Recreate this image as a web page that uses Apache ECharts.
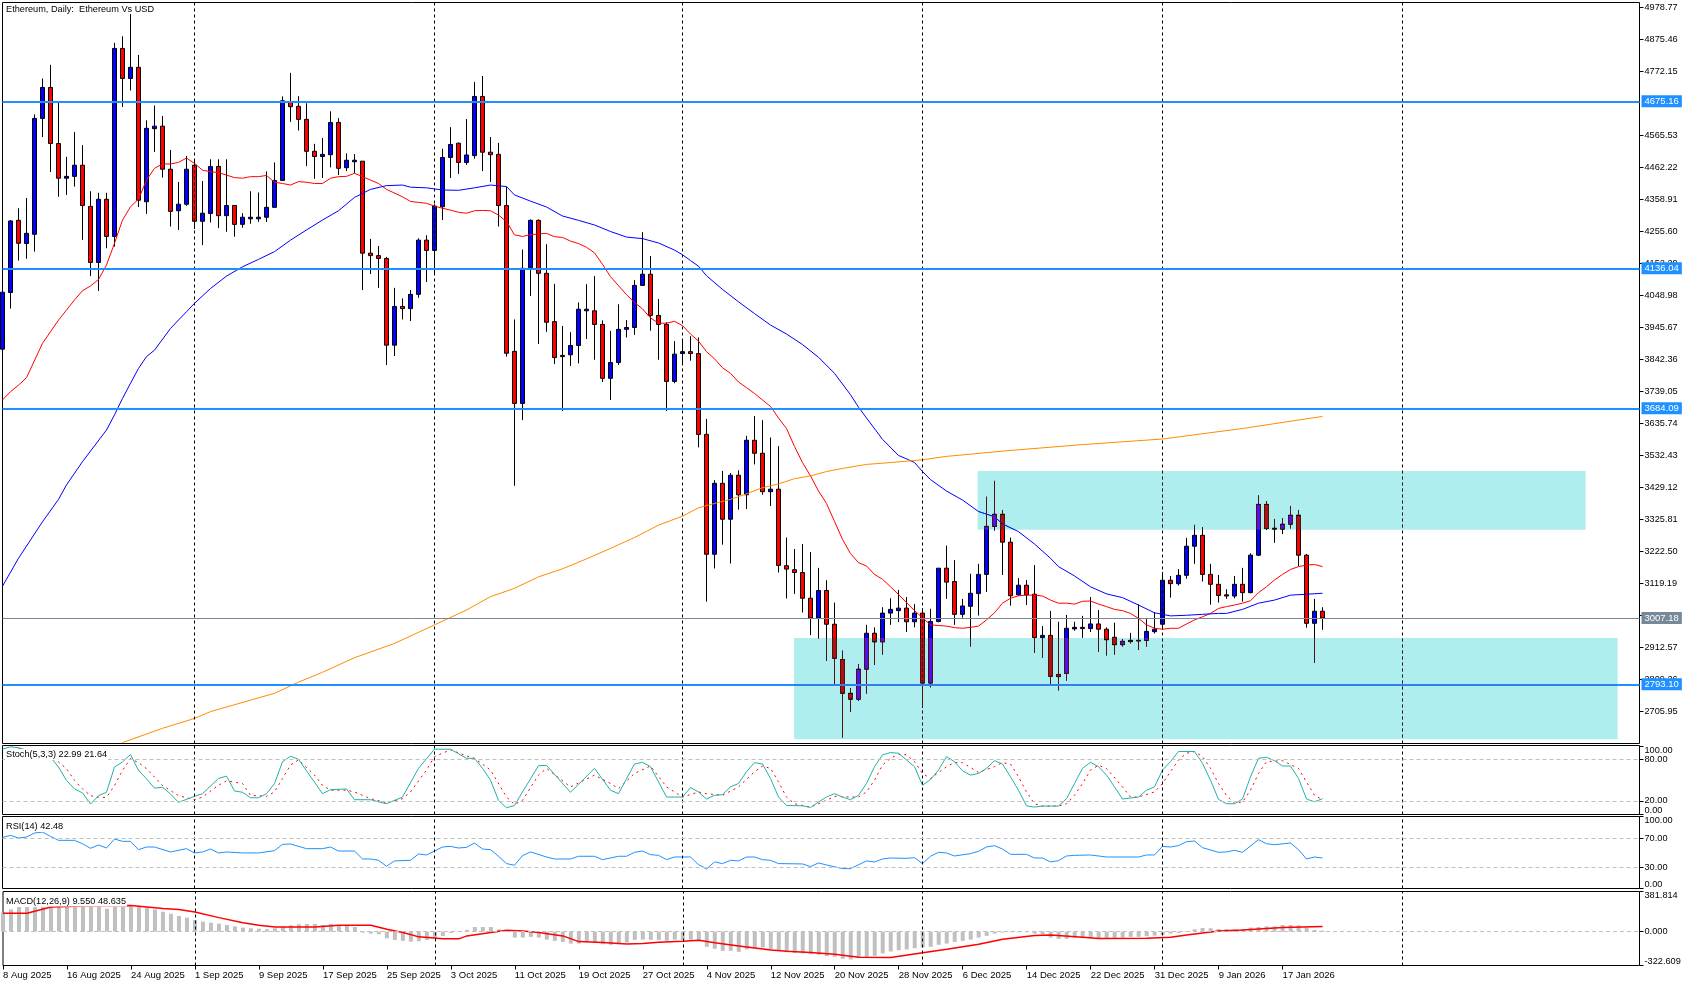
<!DOCTYPE html>
<html><head><meta charset="utf-8">
<style>html,body{margin:0;padding:0;background:#fff}#c{width:1692px;height:986px}</style>
<script src="https://cdn.jsdelivr.net/npm/echarts@6/dist/echarts.min.js"></script>
</head><body><div id="c"></div>
<script>
const opens=[3875,4058,4291,4216,4246,4620,4720,4539,4427,4433,4469,4336,4155,4359,4239,4846,4749,4785,4351,4587,4595,4456,4322,4343,4469,4288,4313,4465,4306,4339,4278,4296,4296,4301,4333,4420,4672,4659,4617,4514,4497,4503,4607,4461,4480,4482,4185,4177,4168,3888,4013,4006,4052,4227,4194,4335,4494,4540,4478,4500,4691,4511,4504,4339,3868,3700,4138,4291,4120,3964,3855,3857,3887,3999,3999,3955,3781,3832,3939,3945,4081,4117,3984,3955,3771,3861,3867,3861,3600,3213,3442,3326,3468,3405,3581,3539,3415,3423,3176,3163,3154,3071,3007,3096,2987,2873,2764,2745,2842,2958,2930,3023,3031,3039,2995,3023,2797,2996,3168,3125,3019,3045,3086,3148,3303,3342,3252,3082,3113,3084,2944,2951,2825,2828,2972,2977,2973,2988,2971,2945,2921,2935,2935,2935,2963,2987,3129,3118,3145,3239,3274,3148,3116,3082,3078,3116,3089,3210,3374,3297,3294,3310,3339,3210,2990,3029];
const closes=[4059,4289,4217,4249,4620,4720,4539,4427,4433,4469,4339,4155,4359,4239,4846,4749,4785,4356,4588,4595,4456,4320,4343,4456,4288,4314,4465,4306,4339,4278,4301,4301,4301,4333,4420,4677,4658,4617,4514,4497,4504,4607,4459,4485,4485,4185,4177,4168,3888,4013,4006,4052,4227,4194,4337,4494,4536,4478,4502,4691,4511,4503,4339,3862,3700,4136,4291,4120,3962,3848,3851,3887,4004,4004,3955,3781,3832,3939,3945,4081,4117,3984,3955,3771,3859,3867,3861,3600,3213,3442,3326,3468,3405,3581,3539,3415,3423,3177,3165,3154,3071,3007,3096,2987,2877,2764,2745,2842,2958,2930,3023,3035,3039,2995,3023,2797,2996,3168,3123,3019,3046,3087,3148,3303,3342,3252,3079,3113,3082,2944,2951,2819,2818,2974,2977,2973,2988,2971,2937,2921,2932,2931,2933,2964,2971,3129,3118,3145,3239,3274,3148,3116,3080,3078,3116,3089,3210,3374,3296,3294,3310,3339,3210,2990,3029,3007.18];
const lows=[3875,4006,4161,4167,4190,4560,4447,4367,4373,4400,4228,4111,4063,4201,4206,4657,4710,4334,4312,4512,4429,4271,4260,4338,4263,4211,4284,4266,4254,4238,4267,4280,4286,4286,4333,4420,4609,4581,4466,4425,4428,4462,4437,4450,4443,4066,4118,4073,3824,3853,3971,3966,4041,4092,4115,4292,4428,4441,4470,4490,4450,4415,4271,3851,3434,3646,4047,3892,3931,3827,3676,3821,3829,3908,3841,3769,3711,3824,3913,3921,4080,3935,3841,3676,3765,3826,3838,3558,3060,3167,3244,3183,3357,3359,3503,3405,3369,3154,3070,3085,3025,2952,2941,2869,2789,2621,2704,2740,2763,2856,2889,2985,2994,2962,2977,2717,2783,2993,3069,2985,3008,2915,3015,3091,3289,3146,3047,3078,3049,2895,2879,2788,2773,2805,2966,2943,2962,2898,2886,2889,2915,2925,2904,2915,2957,2971,3073,3112,3134,3182,3125,3050,3057,3069,3071,3060,3087,3207,3291,3250,3278,3296,3175,2976,2863,2969];
const highs=[4059,4292,4330,4363,4633,4749,4793,4670,4496,4576,4534,4385,4380,4380,4864,4885,4957,4825,4614,4662,4628,4518,4415,4499,4488,4418,4488,4488,4488,4339,4314,4385,4381,4449,4478,4691,4767,4692,4669,4538,4557,4643,4621,4507,4505,4482,4231,4208,4173,4073,4039,4066,4233,4243,4343,4522,4592,4542,4618,4738,4757,4560,4541,4400,3971,4197,4294,4294,4214,4086,3950,3930,4026,4085,4111,3968,3934,4020,3969,4098,4253,4176,4037,3962,3901,3907,3917,3913,3650,3452,3482,3475,3484,3595,3659,3646,3590,3562,3267,3230,3246,3220,3169,3129,3057,2902,2781,2858,2985,2977,3042,3071,3098,3075,3052,3039,3037,3168,3241,3194,3069,3150,3182,3399,3450,3356,3267,3136,3130,3178,2981,3030,2995,3017,2995,3014,3075,3033,2977,2992,2939,2959,3051,3006,3026,3156,3143,3165,3266,3308,3300,3182,3146,3100,3143,3169,3216,3403,3384,3327,3330,3369,3356,3214,3069,3042];

const ma20=[[0,3711],[1,3738],[2,3759],[3,3783],[5,3894],[7,3969],[9,4034],[10,4064],[11,4079],[12,4100],[13,4147],[14,4217],[15,4292],[16,4335],[17,4359],[18,4421],[19,4459],[20,4473],[21,4473],[22,4478],[23,4492],[24,4475],[25,4453],[26,4448],[27,4445],[28,4437],[29,4429],[30,4427],[31,4432],[32,4432],[33,4436],[34,4414],[35,4410],[36,4405],[37,4416],[38,4414],[39,4410],[40,4410],[41,4427],[42,4432],[43,4433],[44,4443],[45,4432],[46,4421],[47,4410],[48,4391],[50,4367],[51,4352],[52,4349],[53,4346],[54,4337],[55,4330],[56,4324],[57,4317],[58,4314],[59,4322],[60,4323],[61,4322],[62,4308],[63,4287],[64,4244],[65,4239],[66,4245],[67,4247],[68,4249],[69,4238],[70,4236],[71,4224],[72,4216],[73,4204],[74,4186],[75,4149],[76,4109],[77,4080],[78,4051],[79,4026],[80,4005],[81,3976],[82,3959],[83,3959],[84,3965],[85,3951],[86,3924],[87,3901],[88,3867],[89,3844],[90,3815],[91,3797],[92,3769],[93,3751],[94,3732],[95,3711],[96,3690],[97,3653],[98,3619],[99,3561],[100,3509],[101,3466],[102,3417],[103,3377],[104,3319],[105,3261],[106,3215],[107,3186],[108,3175],[109,3148],[110,3132],[111,3108],[112,3083],[113,3057],[114,3031],[115,3008],[116,2985],[117,2983],[118,2981],[119,2976],[120,2974],[121,2977],[122,2981],[123,3001],[124,3024],[125,3055],[126,3071],[127,3079],[128,3081],[129,3081],[130,3078],[131,3065],[132,3055],[133,3055],[134,3052],[135,3061],[136,3062],[137,3052],[138,3044],[139,3035],[140,3031],[141,3022],[142,3006],[143,2985],[144,2974],[145,2971],[146,2974],[147,2974],[148,2988],[149,3001],[150,3011],[151,3022],[152,3038],[153,3044],[154,3049],[155,3055],[156,3063],[157,3089],[158,3108],[159,3130],[160,3148],[161,3164],[162,3173],[163,3178],[164,3180],[165,3173]];
const ma50=[[0,3110],[2,3200],[5,3318],[7,3390],[8,3437],[10,3512],[13,3614],[14,3663],[15,3716],[16,3765],[17,3813],[18,3851],[19,3872],[21,3942],[23,3996],[24,4023],[26,4071],[28,4111],[30,4141],[32,4165],[34,4190],[36,4227],[38,4260],[40,4292],[42,4322],[44,4365],[46,4391],[48,4403],[50,4405],[51,4398],[53,4396],[55,4389],[57,4388],[59,4396],[61,4405],[63,4400],[64,4373],[66,4353],[68,4334],[70,4305],[72,4291],[74,4276],[76,4255],[78,4237],[80,4232],[82,4218],[84,4195],[85,4180],[86,4161],[87,4143],[88,4112],[90,4068],[92,4028],[94,3990],[96,3953],[98,3924],[100,3890],[102,3849],[104,3797],[106,3728],[107,3688],[108,3653],[110,3584],[112,3532],[113,3521],[114,3509],[115,3480],[116,3454],[118,3417],[120,3388],[122,3351],[124,3334],[125,3311],[127,3286],[129,3246],[131,3200],[132,3173],[134,3143],[136,3108],[138,3085],[140,3073],[142,3049],[144,3024],[146,3014],[148,3016],[150,3019],[152,3022],[153,3022],[155,3035],[157,3055],[159,3065],[161,3081],[163,3084],[165,3087]];
const ma200=[[15,2605],[20,2651],[24,2683],[26,2705],[31,2742],[34,2764],[37,2800],[40,2832],[44,2879],[49,2925],[54,2985],[58,3033],[61,3076],[64,3103],[67,3140],[70,3166],[73,3198],[76,3232],[79,3267],[82,3307],[85,3336],[87,3363],[89,3377],[91,3390],[93,3408],[95,3428],[97,3440],[99,3457],[101,3466],[103,3480],[105,3490],[108,3503],[111,3509],[115,3518],[118,3529],[121,3536],[125,3546],[135,3567],[145,3585],[155,3619],[165,3658]];

const stochMain=[[0,95.4],[1,98.8],[2,97.4],[3,94],[4,91.5],[5,87.5],[6,83.6],[7,69.3],[8,49.7],[9,37.4],[10,31.5],[11,15.3],[12,27.5],[13,32.5],[14,69.3],[15,76.7],[16,87.5],[17,64.4],[18,52.1],[19,38.4],[20,39.8],[21,30],[22,17.7],[24,26.5],[25,30.4],[27,52.6],[28,56],[29,34.4],[30,32.4],[31,24.5],[32,24.5],[33,30.4],[34,45.2],[35,77.1],[36,85],[37,80.6],[40,30.4],[41,36.3],[43,37.3],[44,21.6],[46,21.6],[48,15.7],[50,25.5],[52,67.3],[54,95.3],[56,95.3],[58,82],[59,82],[60,67.3],[61,50.1],[62,20.6],[63,9.8],[64,13.2],[65,32.9],[67,71.2],[68,71.7],[71,32.4],[74,67.3],[76,35.4],[77,30.4],[79,73.7],[80,76.2],[81,69.8],[83,25.5],[85,25.5],[86,39.3],[87,32.9],[88,22.6],[89,28],[90,29],[91,40.3],[92,45.2],[93,62.4],[94,75.7],[95,73.7],[96,52.6],[97,25.5],[98,13.2],[100,12.7],[101,10.3],[102,18.2],[103,25.5],[104,30.4],[105,25.5],[106,21.6],[107,28],[108,45.2],[109,69.8],[110,87],[111,90.4],[112,89.4],[113,79.6],[114,69.8],[115,42.7],[116,51.1],[117,64.9],[118,84.5],[119,77.1],[120,63.9],[121,57.5],[122,59.9],[123,67.3],[124,78.6],[125,73.7],[126,55],[127,35.4],[128,12.7],[129,10.8],[130,12.3],[132,12.3],[133,23.1],[134,45.2],[135,67.3],[136,76.2],[137,69.8],[138,57.5],[139,40.3],[140,22.6],[142,25.5],[143,35.4],[144,40.3],[145,64.9],[146,77.1],[147,91.9],[149,91.9],[150,74.7],[151,50.1],[152,22.1],[153,15.7],[154,15.7],[155,22.6],[156,55],[157,82],[158,83.5],[159,78.6],[160,70.8],[161,70.8],[162,52.6],[163,22.6],[164,18.6],[165,22.99]];
const stochSignal=[[2,97],[6,83],[7,76.7],[8,66.9],[9,49.7],[10,37.4],[11,27.5],[12,25.1],[13,25],[14,42.3],[15,64.4],[16,81.6],[17,75.7],[18,66.9],[19,54.6],[20,42.3],[21,34.9],[22,27.5],[24,21.6],[25,25.5],[27,42.7],[28,49.1],[30,45.2],[31,28],[33,26.5],[34,32.9],[35,52.6],[36,72.2],[37,79.6],[39,57.5],[40,42.7],[41,35.4],[43,35.4],[44,32.9],[46,23.1],[48,17.2],[50,23.1],[51,32.9],[53,64.9],[54,84.5],[56,94.4],[58,85.5],[59,82],[61,64.9],[63,25.5],[64,14.7],[65,20.6],[67,57.5],[68,67.3],[71,40.3],[74,57.5],[76,45.2],[77,37.8],[79,59.9],[81,70.8],[83,40.3],[85,25.5],[87,32.9],[88,30.4],[90,28],[92,40.3],[94,62.4],[95,70.8],[96,67.3],[97,47.6],[98,25.5],[99,15.7],[101,10.8],[103,20.6],[104,26.5],[106,25.5],[107,25.5],[108,32.9],[109,50.1],[110,72.2],[111,82],[112,88],[113,87],[114,77.1],[115,59.9],[116,52.6],[118,69.8],[119,75.7],[120,75.7],[122,61.4],[124,69.8],[125,75.7],[126,73.7],[127,55],[128,32.9],[129,15.7],[130,12.3],[132,12.3],[133,15.7],[134,28],[135,45.2],[136,64.9],[137,71.7],[138,67.3],[140,40.3],[141,25.5],[142,25.5],[144,32.9],[145,45.2],[147,79.6],[148,89.4],[149,91.9],[150,84.5],[151,67.3],[152,45.2],[153,28],[154,16.7],[155,18.2],[156,35.4],[157,59.9],[158,77.1],[160,78.6],[162,67.3],[163,47.6],[164,28],[165,21.64]];
const rsiLine=[[0,71.2],[1,74],[2,70.3],[3,71.7],[4,77.3],[5,78.6],[6,72.6],[7,67.1],[9,67.1],[10,62.4],[11,56],[12,60.6],[13,56.4],[14,68.9],[15,65.7],[16,65.7],[17,54.1],[18,57.8],[19,57.8],[21,50.9],[23,55.5],[24,49.5],[25,50.9],[26,55],[27,49.5],[28,50.9],[30,49.5],[32,49.5],[34,52.7],[35,61.5],[36,62],[38,55.5],[40,55.5],[41,57.8],[42,52.2],[44,52.2],[45,41.1],[46,41.1],[47,39.3],[48,31],[49,38.4],[51,39.3],[52,48.1],[53,46.7],[55,57.8],[56,58.7],[57,56.4],[58,57.3],[59,63.4],[60,55],[61,54.1],[62,44.9],[63,34.7],[64,32.4],[65,45.8],[66,50.9],[68,43.9],[69,41.1],[71,41.1],[72,44.9],[74,44.9],[75,40.2],[77,44.9],[78,44.9],[79,50.4],[80,52.2],[81,47.2],[82,46.2],[83,40.2],[84,43.9],[86,43.9],[87,33.3],[88,27.3],[89,37],[90,34.7],[91,39.3],[92,38.4],[93,43.9],[94,43.9],[95,40.2],[96,39.3],[97,34.7],[100,34.2],[101,30.5],[102,35.6],[103,32.8],[105,27.7],[106,27.7],[108,38.4],[109,37],[110,41.1],[111,42.5],[113,42],[114,43],[115,34.7],[116,44.9],[117,50.4],[118,49.5],[119,45.3],[121,48.6],[122,51.8],[123,57.8],[124,59.7],[125,55],[126,47.6],[128,47.6],[129,42.5],[130,42.5],[131,37],[132,38.8],[133,45.3],[134,46.2],[136,46.7],[138,43.9],[142,43.9],[143,46.7],[144,46.7],[145,58.7],[146,57.8],[147,59.7],[148,65.2],[149,66.1],[150,56.9],[152,50.4],[153,50.9],[154,53.2],[155,50.4],[157,68],[158,62.4],[159,61],[161,63.4],[162,54.1],[163,41.1],[164,43.9],[165,42.48]];
const macdHist=[180,211,234,234,234,237,237,237,237,237,237,237,237,218,237,237,237,237,227,211,189,170,148,133,110,95,85,76,63,50,38,32,28,22,32,44,60,69,73,73,63,73,60,54,44,-9,-19,-25,-63,-79,-88,-95,-92,-79,-60,-41,-13,6,16,44,44,44,22,2,-57,-57,-50,-57,-76,-88,-98,-114,-114,-98,-104,-120,-126,-120,-104,-79,-76,-79,-79,-88,-76,-79,-76,-79,-145,-164,-183,-183,-193,-170,-158,-151,-170,-183,-196,-202,-208,-215,-221,-234,-240,-259,-265,-252,-246,-230,-208,-189,-177,-170,-158,-151,-145,-126,-114,-98,-88,-76,-57,-41,-19,-9,-6,-6,-6,-19,-25,-57,-69,-69,-57,-57,-63,-63,-63,-63,-57,-50,-50,-44,-38,-32,-19,-13,6,22,35,32,25,25,19,25,38,44,50,50,63,63,60,38,16,9.55];
const macdSignal=[[0,174],[3,174],[6,234],[10,243],[16,249],[20,221],[22,211],[24,186],[27,133],[30,85],[32,60],[34,44],[39,44],[42,60],[46,60],[48,22],[50,-9],[52,-50],[55,-69],[57,-69],[58,-41],[61,-9],[63,13],[65,6],[67,-9],[70,-41],[72,-95],[75,-104],[78,-117],[80,-114],[82,-101],[85,-92],[87,-82],[89,-107],[92,-136],[96,-174],[98,-186],[101,-199],[104,-215],[107,-243],[111,-246],[115,-202],[118,-167],[122,-120],[125,-73],[129,-38],[131,-32],[135,-54],[137,-66],[143,-63],[146,-54],[148,-32],[152,6],[155,16],[160,38],[165,48.635]];

const dateLabels=['8 Aug 2025','16 Aug 2025','24 Aug 2025','1 Sep 2025','9 Sep 2025','17 Sep 2025','25 Sep 2025','3 Oct 2025','11 Oct 2025','19 Oct 2025','27 Oct 2025','4 Nov 2025','12 Nov 2025','20 Nov 2025','28 Nov 2025','6 Dec 2025','14 Dec 2025','22 Dec 2025','31 Dec 2025','9 Jan 2026','17 Jan 2026'];
const priceTicks=[4978.77,4875.46,4772.15,4565.53,4462.22,4358.91,4255.60,4152.29,4048.98,3945.67,3842.36,3739.05,3635.74,3532.43,3429.12,3325.81,3222.50,3119.19,3015.88,2912.57,2809.26,2705.95];
const levels=[4675.16,4136.04,3684.09,2793.10];
const lastPrice=3007.18;
const monthStarts=[24,54,85,115,145,175];
const zones=[[98.95,201.9,2943,2616],[121.9,197.9,3481.7,3292.3]];

const FONT='"Liberation Sans"', FS=9.5, FSY=9.2, FST=9.2, BARSTEP=8;
const L=2.5,W=1637;
const xMax=W/BARSTEP;
const panels=[{top:2.5,height:741},{top:745.5,height:69},{top:816.5,height:72},{top:891.5,height:74}];
const grids=panels.map(p=>({left:L,width:W,top:p.top,height:p.height,show:true,borderColor:'#000',borderWidth:1,backgroundColor:'#fff'}));
const tickStyle={length:4,lineStyle:{color:'#000',width:1}};
const xAxes=panels.map((p,n)=>({type:'value',gridIndex:n,min:0,max:xMax,show:n===3,splitLine:{show:false},axisLine:{show:false,onZero:false},
  axisTick:{show:true,...tickStyle,customValues:dateLabels.map((d,i)=>i*8)},
  axisLabel:{show:true,customValues:dateLabels.map((d,i)=>i*8),formatter:v=>dateLabels[Math.round(v/8)]||'',align:'left',margin:5,color:'#000',fontFamily:FONT,fontSize:FS,hideOverlap:false,showMinLabel:true,showMaxLabel:true}}));
function yAxis(n,min,max,ticks,dec){return {type:'value',gridIndex:n,position:'right',min,max,scale:true,splitLine:{show:false},
  axisLine:{show:false,onZero:false},axisTick:{show:true,...tickStyle,customValues:ticks},
  axisLabel:{show:true,customValues:ticks,formatter:v=>Number(v).toFixed(dec),margin:5,color:'#000',fontFamily:FONT,fontSize:FSY,lineHeight:8,hideOverlap:false,showMinLabel:true,showMaxLabel:true,
    verticalAlignMaxLabel:n?'top':undefined,verticalAlignMinLabel:n?'bottom':undefined}};}
const yAxes=[yAxis(0,2602,4994.3,priceTicks,2),yAxis(1,0,100.7,[0,20,80,100],2),yAxis(2,0,100.3,[0,30,70,100],2),yAxis(3,-322.609,381.814,[-322.609,0,381.814],3)];
function sepLine(n){return {type:'line',xAxisIndex:n,yAxisIndex:n,data:[],z:1,silent:true,markLine:{silent:true,symbol:'none',animation:false,label:{show:false},lineStyle:{color:'#000',type:[3,3],width:1},data:monthStarts.map(i=>({xAxis:i}))}};}
function levelLine(n,vals){return {type:'line',xAxisIndex:n,yAxisIndex:n,data:[],z:1,silent:true,markLine:{silent:true,symbol:'none',animation:false,label:{show:false},lineStyle:{color:'#C0C0C0',type:[4,3],width:1},data:vals.map(v=>({yAxis:v}))}};}
const plain=(n,d,color,extra)=>({type:'line',xAxisIndex:n,yAxisIndex:n,data:d,showSymbol:false,symbol:'none',silent:true,z:4,lineStyle:{color,width:1,...extra}});
const boxLabel=(bg)=>({show:true,position:'end',distance:2,formatter:p=>Number(p.value).toFixed(2),color:'#fff',backgroundColor:bg,padding:[1,3,1,3],fontFamily:FONT,fontSize:FS});
const option={animation:false,backgroundColor:'#fff',
 title:[
  {text:'Ethereum, Daily:  Ethereum Vs USD',left:5,top:4},
  {text:'Stoch(5,3,3) 22.99 21.64',left:5,top:749,bg:1},
  {text:'RSI(14) 42.48',left:5,top:821,bg:1},
  {text:'MACD(12,26,9) 9.550 48.635',left:5,top:895.5,bg:1}
 ].map(t=>({text:t.text,left:t.left,top:t.top,padding:[0,1,0,1],backgroundColor:t.bg?'#fff':'transparent',textStyle:{fontFamily:FONT,fontSize:FST,fontWeight:'normal',color:'#000',lineHeight:11}})),
 grid:grids,xAxis:xAxes,yAxis:yAxes,
 series:[
  sepLine(0),sepLine(1),sepLine(2),sepLine(3),
  levelLine(1,[20,80]),levelLine(2,[30,70]),levelLine(3,[0]),
  {type:'candlestick',xAxisIndex:0,yAxisIndex:0,silent:true,z:3,barWidth:5,
   data:opens.map((o,i)=>[i,o,closes[i],lows[i],highs[i]]),
   itemStyle:{color:'#0000FF',color0:'#FF0000',borderColor:'#000',borderColor0:'#000',borderColorDoji:'#000',borderWidth:1}},
  plain(0,ma20,'#FF0000'),plain(0,ma50,'#0000FF'),plain(0,ma200,'#FF8C00'),
  {type:'line',xAxisIndex:0,yAxisIndex:0,data:[],z:5,silent:true,markLine:{silent:true,symbol:'none',animation:false,
    data:[...levels.map(v=>({yAxis:v,lineStyle:{color:'#1E90FF',width:2,type:'solid'},label:boxLabel('#1E90FF')})),
          {yAxis:lastPrice,lineStyle:{color:'#778899',width:1,type:'solid'},label:boxLabel('#778899')}]}},
  {type:'custom',xAxisIndex:0,yAxisIndex:0,z:10,silent:true,clip:false,data:zones,encode:{x:[0,1],y:[2,3]},
   renderItem:(ps,api)=>{const a=api.coord([api.value(0),api.value(2)]),b=api.coord([api.value(1),api.value(3)]);
     return {type:'rect',shape:{x:a[0],y:a[1],width:b[0]-a[0],height:b[1]-a[1]},style:{fill:'rgb(80,17,17)',blend:'difference'}};}},
  plain(1,stochSignal,'#FF0000',{type:[2,4]}),plain(1,stochMain,'#20B2AA'),
  plain(2,rsiLine,'#1E90FF'),
  {type:'bar',xAxisIndex:3,yAxisIndex:3,silent:true,z:3,barWidth:4,data:macdHist.map((v,i)=>[i,v]),itemStyle:{color:'#C0C0C0'}},
  plain(3,macdSignal,'#FF0000',{width:1.5})
 ]};
const chart=echarts.init(document.getElementById('c'),null,{renderer:'canvas',width:1692,height:986,devicePixelRatio:1});
chart.setOption(option);
const zr=chart.getZr();
zr.storage.getDisplayList(true).forEach(el=>{ if(el.style&&el.style.fill==='rgb(80,17,17)'){ el.style.blend='difference'; el.dirty(); } });
zr.refreshImmediately();
</script></body></html>
